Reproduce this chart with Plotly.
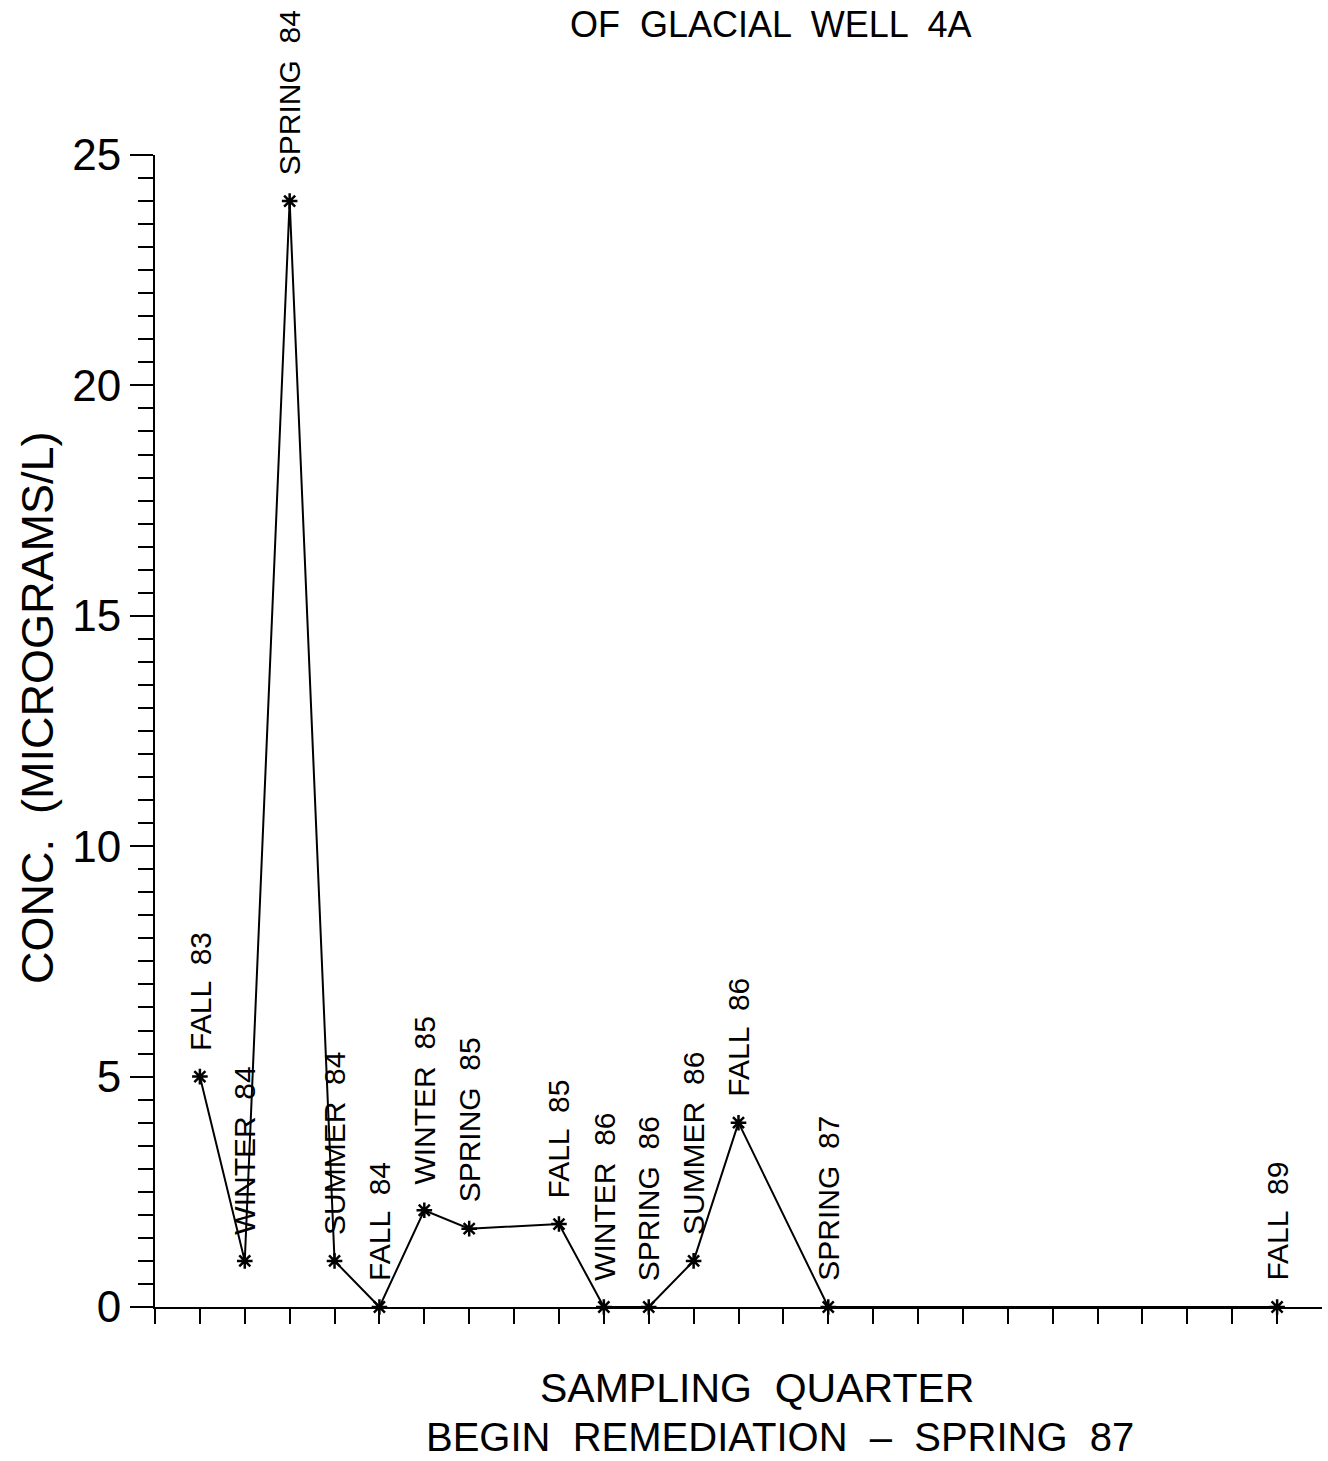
import plotly.graph_objects as go

# ---- data ----
seasons = ["FALL", "WINTER", "SPRING", "SUMMER", "FALL", "WINTER", "SPRING",
           "FALL", "WINTER", "SPRING", "SUMMER", "FALL", "SPRING", "FALL"]
years = [83, 84, 84, 84, 84, 85, 85, 85, 86, 86, 86, 86, 87, 89]
conc = [5.0, 1.0, 24.0, 1.0, 0.0, 2.1, 1.7, 1.8, 0.0, 0.0, 1.0, 4.0, 0.0, 0.0]
y_ticks = [0, 5, 10, 15, 20, 25]

season_order = {"WINTER": 0, "SPRING": 1, "SUMMER": 2, "FALL": 3}
# quarter index along the x axis (FALL 83 = 1)
qidx = [(y - 83) * 4 + season_order[s] - 2 for s, y in zip(seasons, years)]
labels = [f"{s}  {y}" for s, y in zip(seasons, years)]

FONT = "Liberation Sans, Arial, sans-serif"

fig = go.Figure()
fig.add_trace(go.Scatter(
    x=qidx, y=conc, mode="lines+markers",
    line=dict(color="black", width=2),
    marker=dict(symbol="asterisk-open", size=13, color="black",
                line=dict(color="black", width=2.5)),
    cliponaxis=False, showlegend=False,
))

annotations = []
for xi, yi, lab in zip(qidx, conc, labels):
    annotations.append(dict(
        x=xi, y=yi, xref="x", yref="y", text=lab, textangle=-90,
        showarrow=False, xanchor="center", yanchor="bottom", yshift=24,
        font=dict(family=FONT, size=30, color="black"),
    ))

PL, PR, PT, PB = 155, 6, 155, 154
W, H = 1328, 1461
pw, ph = W - PL - PR, H - PT - PB

def px_x(px):
    return (px - PL) / pw

def px_y(py):
    return (H - PB - py) / ph

annotations.append(dict(
    x=px_x(770), y=px_y(2), xref="paper", yref="paper",
    text="OF  GLACIAL  WELL  4A", showarrow=False,
    xanchor="center", yanchor="top",
    font=dict(family=FONT, size=36, color="black"),
))
annotations.append(dict(
    x=px_x(757), y=px_y(1388), xref="paper", yref="paper",
    text="SAMPLING  QUARTER", showarrow=False,
    xanchor="center", yanchor="middle",
    font=dict(family=FONT, size=41, color="black"),
))
annotations.append(dict(
    x=px_x(780), y=px_y(1437), xref="paper", yref="paper",
    text="BEGIN  REMEDIATION  –  SPRING  87", showarrow=False,
    xanchor="center", yanchor="middle",
    font=dict(family=FONT, size=40, color="black"),
))
annotations.append(dict(
    x=px_x(37), y=px_y(708), xref="paper", yref="paper",
    text="CONC.  (MICROGRAMS/L)", showarrow=False, textangle=-90,
    xanchor="center", yanchor="middle",
    font=dict(family=FONT, size=45, color="black"),
))

fig.update_layout(
    width=W, height=H, autosize=False,
    margin=dict(l=PL, r=PR, t=PT, b=PB, pad=0),
    paper_bgcolor="white", plot_bgcolor="white",
    annotations=annotations,
    xaxis=dict(
        range=[0, 26], tickmode="array", tickvals=list(range(26)),
        ticks="outside", ticklen=15, tickwidth=2, tickcolor="black",
        showticklabels=False, showline=True, linewidth=2, linecolor="black",
        showgrid=False, zeroline=False,
    ),
    yaxis=dict(
        range=[0, 25], tickmode="array", tickvals=y_ticks,
        ticks="outside", ticklen=23, tickwidth=2, tickcolor="black",
        minor=dict(tickmode="linear", tick0=0, dtick=0.5, ticks="outside",
                   ticklen=15, tickwidth=2, tickcolor="black", showgrid=False),
        tickfont=dict(family=FONT, size=44, color="black"),
        ticklabelstandoff=0,
        showline=True, linewidth=2, linecolor="black",
        showgrid=False, zeroline=False,
    ),
)

fig.write_html("out.html")
